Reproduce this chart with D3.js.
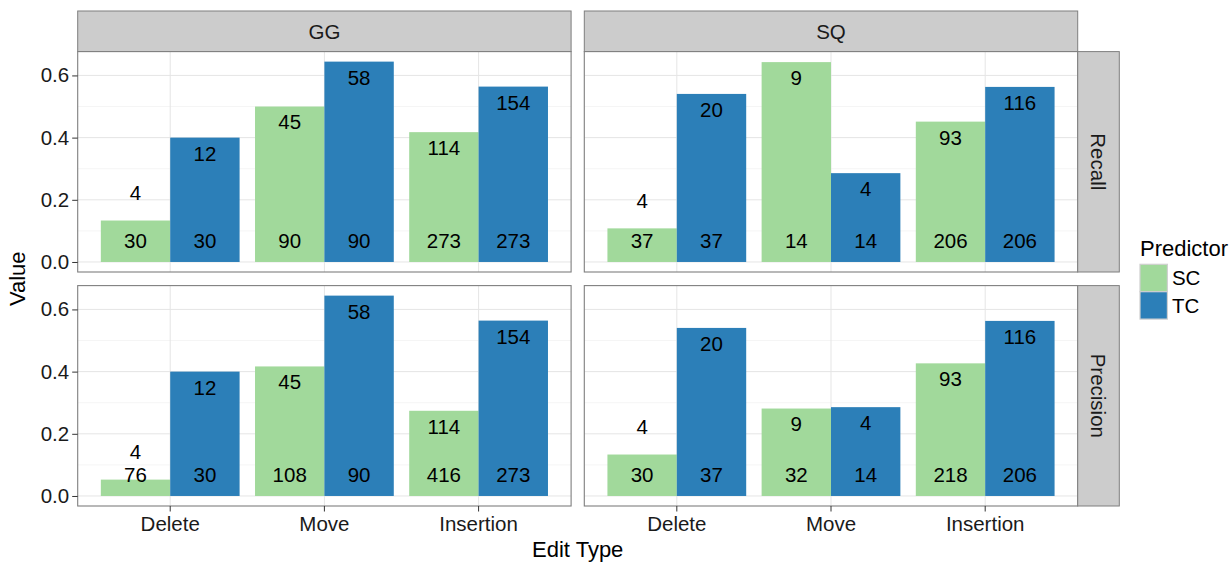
<!DOCTYPE html>
<html>
<head>
<meta charset="utf-8">
<script src="https://cdn.jsdelivr.net/npm/d3@7"></script>
<style>
  html, body { margin: 0; padding: 0; background: #fff; }
  svg { display: block; font-family: "Liberation Sans", Arial, Helvetica, sans-serif; }
</style>
</head>
<body>
<svg id="chart" width="1232" height="562"></svg>
<script>
// ---------------- data ----------------
const editTypes  = ["Delete", "Move", "Insertion"];
const predictors = ["SC", "TC"];
const datasets   = ["GG", "SQ"];
const metrics    = ["Recall", "Precision"];

// correct predictions (numerator labels)
const ggSCCorrect   = [4, 45, 114];
const ggTCCorrect   = [12, 58, 154];
const sqSCCorrect   = [4, 9, 93];
const sqTCCorrect   = [20, 4, 116];
// actual edits (recall denominators)
const ggSCActual    = [30, 90, 273];
const ggTCActual    = [30, 90, 273];
const sqSCActual    = [37, 14, 206];
const sqTCActual    = [37, 14, 206];
// predicted edits (precision denominators)
const ggSCPredicted = [76, 108, 416];
const ggTCPredicted = [30, 90, 273];
const sqSCPredicted = [30, 32, 218];
const sqTCPredicted = [37, 14, 206];

const yTicks = [0, 0.2, 0.4, 0.6];
const yMinorTicks = [0.1, 0.3, 0.5];

// ---------------- build rows ----------------
const src = {
  GG: { SC: [ggSCCorrect, ggSCActual, ggSCPredicted], TC: [ggTCCorrect, ggTCActual, ggTCPredicted] },
  SQ: { SC: [sqSCCorrect, sqSCActual, sqSCPredicted], TC: [sqTCCorrect, sqTCActual, sqTCPredicted] }
};
const rows = [];
datasets.forEach(ds => metrics.forEach(m => predictors.forEach(p => editTypes.forEach((e, i) => {
  const [c, a, pr] = src[ds][p];
  const den = m === "Recall" ? a[i] : pr[i];
  rows.push({ dataset: ds, metric: m, predictor: p, edit: e, num: c[i], den: den, value: c[i] / den });
}))));

// ---------------- layout ----------------
const colX = [[77.7, 571.1], [584.3, 1077.7]];
const rowY = [[51.6, 272], [285.6, 506]];
const stripTop = 11;
const stripRight = 1119.3;
const fills = { SC: "#A1D99B", TC: "#2C7FB8" };
const fontTick = 20.5, fontLabel = 20.5, fontTitle = 22;

const svg = d3.select("#chart");
const maxV = d3.max(rows, d => d.value);
const yDomain = [-0.05 * maxV, maxV * 1.05];

datasets.forEach((ds, ci) => {
  const [x0, x1] = colX[ci];
  const x = d3.scaleBand().domain(editTypes).range([x0, x1]).paddingInner(0.1).paddingOuter(0.15);
  const xInner = d3.scaleBand().domain(predictors).range([0, x.bandwidth()]);

  // strip on top
  svg.append("rect").attr("x", x0).attr("y", stripTop).attr("width", x1 - x0).attr("height", rowY[0][0] - stripTop)
    .attr("fill", "#CCCCCC").attr("stroke", "#7F7F7F").attr("stroke-width", 1);
  svg.append("text").attr("x", (x0 + x1) / 2).attr("y", (stripTop + rowY[0][0]) / 2).attr("dy", "0.36em")
    .attr("text-anchor", "middle").attr("font-size", fontTick).attr("fill", "#1a1a1a").text(ds);

  metrics.forEach((m, ri) => {
    const [y0, y1] = rowY[ri];
    const y = d3.scaleLinear().domain(yDomain).range([y1, y0]);
    const g = svg.append("g");
    g.append("rect").attr("x", x0).attr("y", y0).attr("width", x1 - x0).attr("height", y1 - y0).attr("fill", "#fff");
    // minor grid
    g.selectAll(".minor").data(yMinorTicks).join("line")
      .attr("x1", x0).attr("x2", x1).attr("y1", d => y(d)).attr("y2", d => y(d))
      .attr("stroke", "#F5F5F5").attr("stroke-width", 1);
    // major grid
    g.selectAll(".majorY").data(yTicks).join("line")
      .attr("x1", x0).attr("x2", x1).attr("y1", d => y(d)).attr("y2", d => y(d))
      .attr("stroke", "#E5E5E5").attr("stroke-width", 1);
    g.selectAll(".majorX").data(editTypes).join("line")
      .attr("x1", d => x(d) + x.bandwidth() / 2).attr("x2", d => x(d) + x.bandwidth() / 2)
      .attr("y1", y0).attr("y2", y1)
      .attr("stroke", "#E5E5E5").attr("stroke-width", 1);

    const sub = rows.filter(r => r.dataset === ds && r.metric === m);
    g.selectAll(".bar").data(sub).join("rect")
      .attr("x", d => x(d.edit) + xInner(d.predictor))
      .attr("width", xInner.bandwidth())
      .attr("y", d => y(d.value))
      .attr("height", d => y(0) - y(d.value))
      .attr("fill", d => fills[d.predictor]);
    // numerator labels
    g.selectAll(".num").data(sub).join("text")
      .attr("x", d => x(d.edit) + xInner(d.predictor) + xInner.bandwidth() / 2)
      .attr("y", d => y(d.value < 0.2 ? d.value + 0.09 : d.value - 0.05))
      .attr("dy", "0.36em").attr("text-anchor", "middle").attr("font-size", fontLabel).attr("fill", "#000")
      .text(d => d.num);
    // denominator labels
    g.selectAll(".den").data(sub).join("text")
      .attr("x", d => x(d.edit) + xInner(d.predictor) + xInner.bandwidth() / 2)
      .attr("y", d => y(0.07))
      .attr("dy", "0.36em").attr("text-anchor", "middle").attr("font-size", fontLabel).attr("fill", "#000")
      .text(d => d.den);
    // border
    g.append("rect").attr("x", x0).attr("y", y0).attr("width", x1 - x0).attr("height", y1 - y0)
      .attr("fill", "none").attr("stroke", "#7F7F7F").attr("stroke-width", 1.1);

    // y axis (left column only)
    if (ci === 0) {
      const ax = svg.append("g").attr("transform", `translate(${x0},0)`)
        .call(d3.axisLeft(y).tickValues(yTicks).tickFormat(d3.format(".1f")).tickSize(5.5).tickPadding(3));
      ax.select(".domain").remove();
      ax.selectAll("line").attr("stroke", "#333");
      ax.selectAll("text").attr("font-size", fontTick).attr("fill", "#1a1a1a").attr("font-family", null);
    }
    // x axis (bottom row only)
    if (ri === metrics.length - 1) {
      const ax = svg.append("g").attr("transform", `translate(0,${y1})`)
        .call(d3.axisBottom(x).tickSize(5.5).tickPadding(5));
      ax.select(".domain").remove();
      ax.selectAll("line").attr("stroke", "#333");
      ax.selectAll("text").attr("font-size", fontTick).attr("fill", "#1a1a1a").attr("font-family", null);
    }
    // right strip
    if (ci === datasets.length - 1) {
      svg.append("rect").attr("x", x1).attr("y", y0).attr("width", stripRight - x1).attr("height", y1 - y0)
        .attr("fill", "#CCCCCC").attr("stroke", "#7F7F7F").attr("stroke-width", 1);
      svg.append("text")
        .attr("transform", `translate(${(x1 + stripRight) / 2},${(y0 + y1) / 2}) rotate(90)`)
        .attr("dy", "0.36em").attr("text-anchor", "middle").attr("font-size", fontTick).attr("fill", "#1a1a1a")
        .text(m);
    }
  });
});

// axis titles
svg.append("text").attr("x", (colX[0][0] + colX[1][1]) / 2).attr("y", 557)
  .attr("text-anchor", "middle").attr("font-size", fontTitle).attr("fill", "#000").text("Edit Type");
svg.append("text").attr("transform", `translate(25,${(rowY[0][0] + rowY[1][1]) / 2}) rotate(-90)`)
  .attr("text-anchor", "middle").attr("font-size", fontTitle).attr("fill", "#000").text("Value");

// legend
const lg = svg.append("g").attr("transform", "translate(1140,0)");
lg.append("text").attr("x", 0).attr("y", 256).attr("font-size", fontTitle).attr("fill", "#000").text("Predictor");
const keySize = 27.4;
predictors.forEach((p, i) => {
  const ky = 264.3 + i * keySize;
  lg.append("rect").attr("x", 0).attr("y", ky).attr("width", keySize).attr("height", keySize)
    .attr("fill", fills[p]).attr("stroke", "#D0D0D0").attr("stroke-width", 1.2);
  lg.append("text").attr("x", keySize + 4.5).attr("y", ky + keySize / 2).attr("dy", "0.36em")
    .attr("font-size", fontTick).attr("fill", "#000").text(p);
});
</script>
</body>
</html>
